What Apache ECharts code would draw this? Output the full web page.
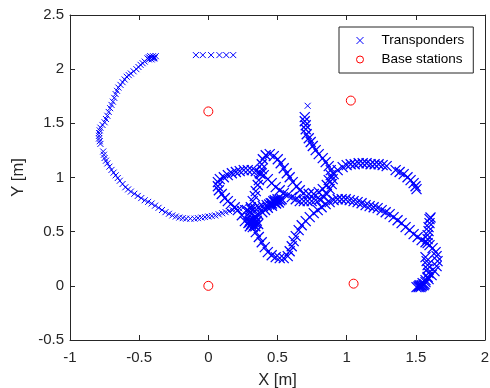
<!DOCTYPE html>
<html>
<head>
<meta charset="utf-8">
<script src="https://cdn.jsdelivr.net/npm/echarts@6/dist/echarts.min.js"></script>
<style>
  html, body { margin: 0; padding: 0; background: #fff; }
  #chart { width: 490px; height: 388px; }
</style>
</head>
<body>
<div id="chart"></div>
<script>
// tick values
const xTicks = [-1, -0.5, 0, 0.5, 1, 1.5, 2];
const yTicks = [-0.5, 0, 0.5, 1, 1.5, 2, 2.5];

// base station positions [x, y] in m
const baseStations = [[0, 1.61], [1.03, 1.71], [0, 0], [1.05, 0.02]];

// transponder fixes, grouped by trail piece
const topRow = [[-0.09, 2.13], [-0.04, 2.13], [0.02, 2.13], [0.08, 2.13], [0.13, 2.13], [0.18, 2.13]];

const startCluster = [[-0.38, 2.12], [-0.39, 2.11], [-0.40, 2.12], [-0.40, 2.10], [-0.41, 2.11], [-0.42, 2.12],
  [-0.42, 2.10], [-0.43, 2.09], [-0.44, 2.10], [-0.41, 2.09], [-0.39, 2.10], [-0.43, 2.11]];

const bigArc = [[-0.46, 2.07], [-0.475, 2.055], [-0.49, 2.04], [-0.505, 2.02], [-0.52, 2.00], [-0.54, 1.98],
  [-0.56, 1.96], [-0.575, 1.945], [-0.59, 1.93], [-0.605, 1.905], [-0.62, 1.88], [-0.635, 1.855], [-0.65, 1.83],
  [-0.66, 1.80], [-0.67, 1.77], [-0.68, 1.735], [-0.69, 1.70], [-0.70, 1.67], [-0.71, 1.64], [-0.72, 1.605],
  [-0.73, 1.57], [-0.74, 1.54], [-0.75, 1.51], [-0.765, 1.485], [-0.78, 1.46], [-0.785, 1.435], [-0.79, 1.41],
  [-0.79, 1.385], [-0.79, 1.36], [-0.785, 1.335], [-0.78, 1.31],
  [-0.76, 1.24], [-0.755, 1.21], [-0.75, 1.18], [-0.74, 1.155], [-0.73, 1.13], [-0.715, 1.10], [-0.70, 1.07],
  [-0.685, 1.045], [-0.67, 1.02], [-0.655, 0.995], [-0.64, 0.97], [-0.62, 0.94], [-0.60, 0.91], [-0.58, 0.89],
  [-0.56, 0.87], [-0.535, 0.85], [-0.51, 0.83], [-0.485, 0.81], [-0.46, 0.79], [-0.435, 0.775], [-0.41, 0.76],
  [-0.385, 0.74], [-0.36, 0.72], [-0.335, 0.70], [-0.31, 0.68], [-0.285, 0.665], [-0.26, 0.65], [-0.235, 0.64],
  [-0.21, 0.63], [-0.185, 0.625], [-0.16, 0.62], [-0.13, 0.62], [-0.10, 0.62], [-0.075, 0.625], [-0.05, 0.63],
  [-0.025, 0.635], [0.00, 0.64], [0.025, 0.645], [0.05, 0.65], [0.075, 0.66], [0.10, 0.67], [0.125, 0.68],
  [0.15, 0.69], [0.175, 0.70], [0.20, 0.71], [0.225, 0.715], [0.25, 0.72]];

const arcToBlob = [[0.278, 0.699], [0.307, 0.708], [0.336, 0.717], [0.365, 0.726], [0.394, 0.736],
  [0.422, 0.745], [0.451, 0.763], [0.480, 0.773]];

const upperBlob = [[0.44, 0.75], [0.46, 0.76], [0.48, 0.77], [0.50, 0.78], [0.52, 0.79], [0.47, 0.78],
  [0.49, 0.76], [0.51, 0.77], [0.53, 0.80], [0.50, 0.80], [0.46, 0.74], [0.48, 0.79]];

const lowerBlob = [[0.30, 0.60], [0.32, 0.59], [0.34, 0.58], [0.31, 0.57], [0.33, 0.56], [0.35, 0.60],
  [0.29, 0.58], [0.32, 0.62], [0.36, 0.57], [0.34, 0.55], [0.30, 0.55], [0.33, 0.61]];

const blobLink = [[0.34, 0.64], [0.36, 0.66], [0.39, 0.68], [0.41, 0.70], [0.43, 0.72]];

const leftLoop = [[0.264, 0.597], [0.242, 0.652], [0.213, 0.699], [0.191, 0.726], [0.162, 0.754], [0.141, 0.782],
  [0.119, 0.810], [0.097, 0.847], [0.076, 0.883], [0.069, 0.920], [0.069, 0.957], [0.083, 0.985], [0.112, 1.003],
  [0.141, 1.022], [0.170, 1.040], [0.199, 1.050], [0.227, 1.059], [0.256, 1.068], [0.285, 1.068], [0.314, 1.068],
  [0.343, 1.059], [0.372, 1.040], [0.401, 1.022], [0.430, 0.985], [0.458, 0.948], [0.487, 0.911], [0.516, 0.883],
  [0.545, 0.856], [0.574, 0.837], [0.603, 0.819], [0.632, 0.800], [0.661, 0.782], [0.690, 0.782], [0.718, 0.782],
  [0.747, 0.782], [0.776, 0.791], [0.805, 0.800], [0.834, 0.819], [0.856, 0.847], [0.877, 0.893], [0.892, 0.939],
  [0.899, 0.985], [0.906, 1.031]];

const rightArm = [[0.935, 1.068], [0.971, 1.096], [1.000, 1.114], [1.029, 1.123], [1.058, 1.123], [1.087, 1.132],
  [1.116, 1.132], [1.144, 1.132], [1.173, 1.123], [1.202, 1.123], [1.231, 1.123], [1.260, 1.114], [1.289, 1.105],
  [1.354, 1.068], [1.383, 1.050], [1.412, 1.031], [1.440, 1.003], [1.462, 0.976], [1.484, 0.948], [1.498, 0.920],
  [1.505, 0.893]];

const humpArm = [[0.394, 1.169], [0.415, 1.206], [0.444, 1.216], [0.473, 1.197], [0.502, 1.169], [0.523, 1.132],
  [0.545, 1.086], [0.567, 1.040], [0.588, 1.003], [0.610, 0.957], [0.639, 0.920], [0.661, 0.883], [0.690, 0.856],
  [0.726, 0.847], [0.762, 0.847], [0.798, 0.865], [0.827, 0.893], [0.856, 0.930], [0.870, 0.976], [0.885, 1.022],
  [0.885, 1.068], [0.870, 1.105], [0.848, 1.142], [0.827, 1.179], [0.798, 1.216], [0.776, 1.253], [0.755, 1.290],
  [0.740, 1.327], [0.726, 1.363], [0.711, 1.400], [0.704, 1.446], [0.704, 1.483], [0.697, 1.520], [0.697, 1.557]];

const outlier = [[0.718, 1.662]];

const diagonal = [[0.386, 1.123], [0.386, 1.077], [0.379, 1.031], [0.365, 0.976], [0.357, 0.930], [0.343, 0.874],
  [0.336, 0.828], [0.321, 0.782], [0.307, 0.726], [0.300, 0.680], [0.292, 0.634], [0.300, 0.588], [0.321, 0.542],
  [0.343, 0.496], [0.365, 0.450], [0.386, 0.403], [0.408, 0.357], [0.430, 0.311], [0.458, 0.283], [0.487, 0.265],
  [0.516, 0.256], [0.545, 0.256], [0.574, 0.274], [0.588, 0.320], [0.603, 0.366], [0.617, 0.413], [0.632, 0.459],
  [0.653, 0.514], [0.675, 0.560], [0.704, 0.597], [0.733, 0.634], [0.762, 0.671], [0.791, 0.699], [0.819, 0.726],
  [0.848, 0.754], [0.877, 0.773], [0.906, 0.791], [0.935, 0.800], [0.964, 0.800], [0.993, 0.800]];

const lowerArc = [[1.022, 0.791], [1.050, 0.782], [1.079, 0.773], [1.108, 0.763], [1.137, 0.745], [1.166, 0.736],
  [1.195, 0.726], [1.224, 0.717], [1.253, 0.699], [1.282, 0.680], [1.311, 0.662], [1.339, 0.634], [1.368, 0.606],
  [1.397, 0.579], [1.426, 0.542], [1.455, 0.514], [1.484, 0.477], [1.513, 0.450], [1.542, 0.422], [1.570, 0.403],
  [1.599, 0.376], [1.621, 0.348], [1.643, 0.311], [1.650, 0.274], [1.657, 0.228], [1.650, 0.182], [1.635, 0.136],
  [1.614, 0.099], [1.592, 0.062], [1.570, 0.034], [1.542, 0.006], [1.520, -0.012]];

const stub = [[1.606, 0.63], [1.599, 0.616], [1.599, 0.579], [1.592, 0.542], [1.592, 0.505], [1.585, 0.468],
  [1.585, 0.431], [1.585, 0.394]];

const endPiece = [[1.570, 0.265], [1.578, 0.228], [1.585, 0.191], [1.585, 0.155], [1.592, 0.118], [1.585, 0.081],
  [1.570, 0.053], [1.549, 0.025], [1.527, 0.006], [1.505, -0.012], [1.520, -0.003], [1.542, -0.003],
  [1.563, 0.016], [1.556, 0.006], [1.534, -0.012]];

const sparseFixes = [].concat(topRow, startCluster, bigArc, outlier);
const denseFixes = [].concat(arcToBlob, upperBlob, lowerBlob, blobLink, leftLoop, rightArm, humpArm,
  diagonal, lowerArc, stub, endPiece);

const crossPath = 'path://M0,0L10,10M10,0L0,10';
const ink = '#262626';
const blue = '#0000ff';
const red = '#ff0000';
const font = 'Liberation Sans, Arial, Helvetica, sans-serif';

const chart = echarts.init(document.getElementById('chart'));

function boxAxis(extra) {
  return Object.assign({
    type: 'value',
    interval: 0.5,
    axisLine: { show: true, onZero: false, lineStyle: { color: ink, width: 1 } },
    axisTick: { show: true, inside: true, length: 5, lineStyle: { color: ink } },
    splitLine: { show: false },
    axisLabel: { color: ink, fontSize: 15, fontFamily: font },
  }, extra);
}

chart.setOption({
  animation: false,
  backgroundColor: '#fff',
  grid: { left: 70, right: 5, top: 15, bottom: 48, containLabel: false, outerBoundsMode: 'none' },
  xAxis: [
    boxAxis({
      min: xTicks[0], max: xTicks[xTicks.length - 1], position: 'bottom',
      axisLabel: { color: ink, fontSize: 15, fontFamily: font, margin: 10 },
      name: 'X [m]', nameLocation: 'middle', nameGap: 32,
      nameTextStyle: { color: ink, fontSize: 16.5, fontFamily: font },
    }),
    boxAxis({ min: xTicks[0], max: xTicks[xTicks.length - 1], position: 'top', axisLabel: { show: false } }),
  ],
  yAxis: [
    boxAxis({
      min: yTicks[0], max: yTicks[yTicks.length - 1], position: 'left',
      axisLabel: { color: ink, fontSize: 15, fontFamily: font, margin: 6 },
      name: 'Y [m]', nameLocation: 'middle', nameGap: 37,
      nameTextStyle: { color: ink, fontSize: 16.5, fontFamily: font },
    }),
    boxAxis({ min: yTicks[0], max: yTicks[yTicks.length - 1], position: 'right', axisLabel: { show: false } }),
  ],
  legend: {
    data: ['Transponders', 'Base stations'],
    orient: 'vertical',
    left: 339,
    top: 27,
    padding: [4, 9, 4, 17],
    itemWidth: 33,
    itemHeight: 7,
    itemGap: 0,
    borderColor: ink,
    borderWidth: 1,
    borderRadius: 0,
    backgroundColor: '#fff',
    itemStyle: { borderWidth: 1 },
    textStyle: { color: '#000', fontSize: 13.5, fontFamily: font, lineHeight: 19 },
  },
  series: [
    {
      name: 'Transponders',
      type: 'scatter',
      symbol: crossPath,
      symbolSize: 6,
      itemStyle: { color: blue, borderColor: blue, borderWidth: 1, opacity: 1 },
      data: sparseFixes,
    },
    {
      name: 'Transponders',
      type: 'scatter',
      symbol: crossPath,
      symbolSize: 10,
      itemStyle: { color: blue, borderColor: blue, borderWidth: 1.3, opacity: 1 },
      data: denseFixes,
    },
    {
      name: 'Base stations',
      type: 'scatter',
      symbol: 'circle',
      symbolSize: 9,
      itemStyle: { color: 'transparent', borderColor: red, borderWidth: 1, opacity: 1 },
      data: baseStations,
    },
  ],
});
</script>
</body>
</html>
